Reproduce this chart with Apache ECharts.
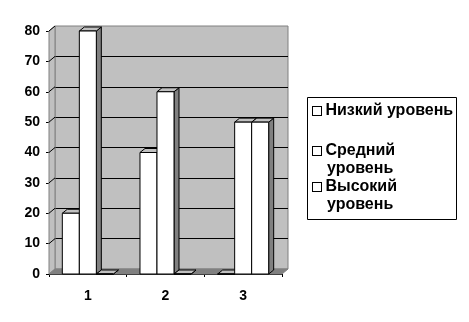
<!DOCTYPE html>
<html lang="ru">
<head>
<meta charset="UTF-8">
<title>Уровни</title>
<style>
	html, body { margin: 0; padding: 0; background: #fff; }
	#main { width: 469px; height: 322px; }
</style>
</head>
<body>
	<div id="main"></div>
	<script src="https://cdn.jsdelivr.net/npm/echarts@6/dist/echarts.min.js"></script>
	<script type="text/javascript">
		// данные
		var categories = ['1', '2', '3'];
		var seriesNames = ['Низкий уровень', 'Средний уровень', 'Высокий уровень'];
		var nizkiy = [20, 40, 0];
		var sredniy = [80, 60, 50];
		var vysokiy = [0, 0, 50];
		var yTicks = [0, 10, 20, 30, 40, 50, 60, 70, 80];

		var values = [nizkiy, sredniy, vysokiy];
		var font = '"Liberation Sans", Arial, sans-serif';

		// глубина "3D"
		var WALL_DX = 6, WALL_DY = -5;
		var BAR_DX = 5, BAR_DY = -4;

		var myChart = echarts.init(document.getElementById('main'));

		// столбик с передней гранью, боковой и верхней
		function makeBar(idx) {
			return function (params, api) {
				var cat = api.value(0);
				var val = api.value(1);
				var base = api.coord([cat, 0]);
				var top = api.coord([cat, val]);
				var band = api.size([1, 0])[0];
				var w = band * 0.219;
				var x0 = base[0] - 1.5 * w + idx * w;
				var x1 = x0 + w;
				var y0 = base[1], y1 = top[1];
				var line = { stroke: '#000', lineWidth: 1 };
				return {
					type: 'group',
					children: [
						{ type: 'polygon', shape: { points: [[x1, y1], [x1 + BAR_DX, y1 + BAR_DY], [x1 + BAR_DX, y0 + BAR_DY], [x1, y0]] },
							style: Object.assign({ fill: '#808080' }, line) },
						{ type: 'polygon', shape: { points: [[x0, y1], [x0 + BAR_DX, y1 + BAR_DY], [x1 + BAR_DX, y1 + BAR_DY], [x1, y1]] },
							style: Object.assign({ fill: '#c0c0c0' }, line) },
						{ type: 'rect', shape: { x: x0, y: y1, width: w, height: y0 - y1 },
							style: Object.assign({ fill: '#ffffff' }, line) }
					]
				};
			};
		}

		// левая стенка и пол
		function renderWalls(params, api) {
			var v = api.value(0);
			var p = api.coord([0, v]);
			var xs = api.coord([0, 0]);
			var left = params.coordSys.x;
			var right = left + params.coordSys.width;
			var children = [];
			if (params.dataIndex === 0) {
				var bot = xs[1];
				var topY = api.coord([0, yTicks[yTicks.length - 1]])[1];
				children.push({ type: 'polygon', shape: { points: [[left, bot], [left, topY], [left + WALL_DX, topY + WALL_DY], [left + WALL_DX, bot + WALL_DY]] },
					style: { fill: '#c0c0c0', stroke: '#808080', lineWidth: 1 } });
				children.push({ type: 'polygon', shape: { points: [[left, bot], [right, bot], [right + WALL_DX, bot + WALL_DY], [left + WALL_DX, bot + WALL_DY]] },
					style: { fill: '#808080', stroke: '#808080', lineWidth: 1 } });
			}
			if (v > 0) {
				children.push({ type: 'line', shape: { x1: left, y1: p[1], x2: left + WALL_DX, y2: p[1] + WALL_DY },
					style: { stroke: '#000', lineWidth: 1 } });
			}
			return { type: 'group', children: children };
		}

		var gridFront = { left: 49, right: 187, top: 31, bottom: 48 };
		var gridBack = {
			left: gridFront.left + WALL_DX, right: gridFront.right - WALL_DX,
			top: gridFront.top + WALL_DY, bottom: gridFront.bottom - WALL_DY,
			show: true, backgroundColor: '#c0c0c0', borderColor: '#808080', borderWidth: 1
		};

		var series = [{
			type: 'custom', name: 'walls', xAxisIndex: 1, yAxisIndex: 1,
			renderItem: renderWalls, silent: true, z: 1,
			data: yTicks.map(function (t) { return [t]; })
		}];
		for (var i = 0; i < 3; i++) {
			series.push({
				type: 'custom', name: seriesNames[i], xAxisIndex: 1, yAxisIndex: 1,
				renderItem: makeBar(i), z: 2 + i,
				itemStyle: { color: '#ffffff' },
				data: values[i].map(function (v, j) { return [j, v]; })
			});
		}

		function legendAt(name, top, text) {
			return {
				data: [name], left: 308, top: top, icon: 'none', itemWidth: 0, itemGap: 0,
				padding: 0, selectedMode: false,
				formatter: function () { return text; },
				textStyle: {
					fontFamily: font, fontSize: 16, fontWeight: 'bold', color: '#000', lineHeight: 18,
					rich: {
						box: { width: 8, height: 8, borderColor: '#000', borderWidth: 1, backgroundColor: '#fff' },
						sp: { width: 14 }
					}
				}
			};
		}

		var option = {
			animation: false,
			grid: [gridBack, gridFront],
			xAxis: [
				{ gridIndex: 0, type: 'category', data: categories, show: false },
				{ gridIndex: 1, type: 'category', data: categories, boundaryGap: true,
					axisLine: { lineStyle: { color: '#000', width: 1 } },
					axisTick: { show: true, length: 3, lineStyle: { color: '#000' } },
					axisLabel: { color: '#000', fontFamily: font, fontSize: 14, fontWeight: 'bold', margin: 15 } }
			],
			yAxis: [
				{ gridIndex: 0, type: 'value', min: 0, max: 80, interval: 10,
					axisLine: { show: false }, axisTick: { show: false }, axisLabel: { show: false },
					splitLine: { show: true, showMinLine: false, showMaxLine: false, lineStyle: { color: '#000', width: 1 } } },
				{ gridIndex: 1, type: 'value', min: 0, max: 80, interval: 10,
					axisLine: { show: true, lineStyle: { color: '#000', width: 1 } },
					axisTick: { show: true, length: 3, lineStyle: { color: '#000' } },
					axisLabel: { color: '#000', fontFamily: font, fontSize: 14, fontWeight: 'bold', margin: 9 },
					splitLine: { show: false } }
			],
			legend: [
				legendAt(seriesNames[0], 102, '{box|} ' + seriesNames[0]),
				legendAt(seriesNames[1], 142, '{box|} Средний\n{sp|}уровень'),
				legendAt(seriesNames[2], 178, '{box|} Высокий\n{sp|}уровень')
			],
			graphic: [{
				type: 'rect', left: 305, top: 95, silent: true,
				shape: { width: 149, height: 122 },
				style: { fill: 'none', stroke: '#000', lineWidth: 1 }
			}],
			series: series
		};

		myChart.setOption(option);
	</script>
</body>
</html>
